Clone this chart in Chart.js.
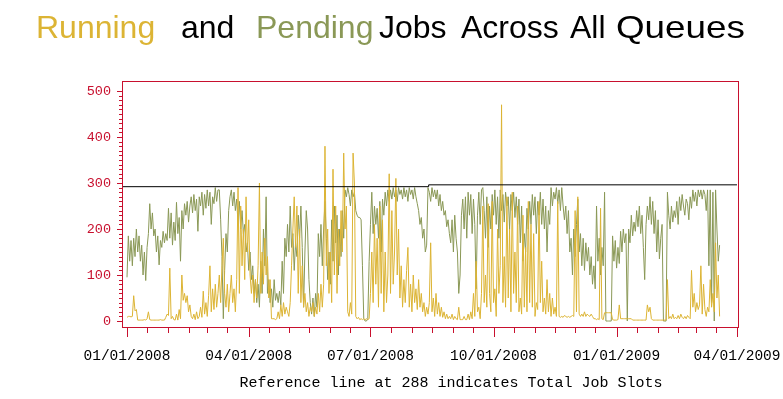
<!DOCTYPE html>
<html>
<head>
<meta charset="utf-8">
<script src="https://cdn.jsdelivr.net/npm/chart.js@4.4.1/dist/chart.umd.min.js"></script>
<style>
  body { margin: 0; background: #fff; overflow: hidden; }
  #wrap { position: relative; width: 783px; height: 399px; }
  #title span { position: absolute; top: 11px; font-family: "Liberation Sans", Arial, sans-serif; font-size: 32px; line-height: 32px; white-space: nowrap; }
  #caption { position: absolute; top: 376px; left: 151px; width: 600px; text-align: center; font-family: "Liberation Mono", monospace; font-size: 15px; line-height: 15px; color: #000; }
  canvas { position: absolute; left: 0; top: 0; }
</style>
</head>
<body>
<div id="wrap">
  <canvas id="jobs" width="783" height="399"></canvas>
  <div id="title">
    <span style="left:36px;color:#dcb434">Running</span>
    <span style="left:181px;color:#000">and</span>
    <span style="left:256px;color:#8a9856">Pending</span>
    <span style="left:379px;color:#000">Jobs</span>
    <span style="left:461px;color:#000">Across</span>
    <span style="left:570px;color:#000">All</span>
    <span style="left:616px;color:#000;transform:scaleX(1.15);transform-origin:0 0">Queues</span>
  </div>
  <div id="caption">Reference line at 288 indicates Total Job Slots</div>
</div>
<script>
// one value per day, starting 01/01/2008
var running = [
  8,10,10,9,10,55,22,25,2,2,
  2,2,2,3,2,5,20,3,2,2,
  2,2,2,2,2,3,2,2,2,8,
  15,12,115,5,10,3,2,15,2,25,
  5,100,45,60,40,55,20,35,10,5,
  15,3,20,5,10,30,8,65,15,40,
  10,55,120,20,70,25,80,30,60,100,
  40,120,180,60,30,80,20,60,100,40,
  70,20,90,290,60,250,120,200,90,270,
  150,220,100,60,100,40,90,50,120,300,
  60,150,80,180,100,140,50,90,5,5,
  5,3,5,20,5,35,10,40,15,30,
  20,10,40,120,200,270,160,250,60,200,
  40,120,30,60,20,40,10,30,20,40,
  10,30,15,60,20,80,30,80,380,120,
  200,60,150,40,330,100,250,60,200,120,
  240,150,365,200,250,20,10,40,15,365,
  300,10,5,8,3,5,3,5,3,5,
  3,5,60,150,40,210,80,180,30,250,
  60,220,20,150,40,100,320,60,240,80,
  150,310,100,200,50,120,30,90,40,110,
  160,30,80,20,100,40,70,25,90,30,
  60,20,40,10,30,15,40,170,20,50,
  10,60,15,40,10,30,8,20,5,15,
  5,10,5,15,3,10,5,3,30,3,
  3,3,10,3,3,15,3,20,5,60,
  10,130,20,30,5,60,250,40,100,30,
  255,60,20,260,40,70,10,200,60,120,
  470,40,140,30,270,50,200,20,280,60,
  150,40,250,20,50,15,230,30,160,20,
  260,40,210,30,190,10,40,25,260,40,
  130,20,50,15,90,20,60,10,50,15,
  30,10,260,10,8,10,8,12,10,8,
  10,8,10,12,10,240,20,270,15,10,
  15,10,20,10,15,12,10,15,10,5,
  5,3,5,3,245,5,3,18,18,18,
  18,18,18,3,2,2,2,3,35,5,
  5,5,5,5,5,5,5,5,2,2,
  2,2,2,2,2,2,2,2,2,35,
  20,30,5,2,2,2,2,2,2,2,
  2,2,2,2,90,5,10,5,15,5,
  8,5,12,5,15,8,5,10,5,12,
  8,5,110,30,60,20,40,25,35,120,
  15,80,25,10,30,20,90,30,60,20,
  170,50,100,10
];
var pending = [
  95,185,130,175,120,180,140,200,150,185,
  130,165,100,150,88,160,190,255,200,235,
  185,200,150,185,122,175,160,195,170,190,
  175,245,180,235,165,215,175,258,190,225,
  130,240,200,255,230,260,215,250,270,235,
  275,240,265,195,270,250,280,230,275,245,
  285,250,280,210,270,255,290,260,285,285,
  220,140,5,110,190,150,240,270,285,250,
  280,240,265,210,260,200,240,190,210,150,
  170,110,150,90,120,60,90,40,80,30,
  130,60,200,120,270,60,90,40,70,30,
  90,45,60,40,65,35,130,60,180,140,
  210,150,250,160,190,110,170,140,230,180,
  250,160,30,150,240,200,90,40,15,50,
  10,60,30,190,140,210,120,200,260,180,
  90,150,80,220,130,250,170,230,100,200,
  140,240,180,285,270,290,275,250,285,270,
  280,240,230,225,225,220,120,5,0,0,
  5,130,210,280,190,250,210,245,180,260,
  150,265,230,280,250,285,260,285,265,290,
  270,285,260,290,275,285,265,290,270,285,
  260,290,275,285,265,290,270,255,240,210,
  225,180,200,150,165,290,280,260,290,270,
  285,265,285,250,275,240,260,230,240,205,
  220,190,170,220,150,230,180,150,60,100,
  230,265,200,270,180,280,230,275,190,265,
  210,70,230,280,210,285,290,240,180,270,
  160,250,200,275,230,285,210,270,180,285,
  240,275,215,280,250,270,200,275,240,280,
  225,270,210,265,170,250,130,190,150,245,
  200,260,210,275,230,270,190,260,230,280,
  210,265,200,250,150,240,210,290,250,280,
  265,290,255,285,240,290,250,220,250,190,
  240,150,180,100,200,140,210,265,150,190,
  120,180,110,170,130,160,100,140,80,120,
  70,250,130,180,100,160,120,280,0,0,
  0,0,0,185,130,175,115,160,125,195,
  150,200,170,190,0,200,170,230,185,215,
  195,240,205,250,190,230,160,90,210,250,
  220,270,210,260,190,240,150,220,135,180,
  210,0,0,0,280,230,200,250,215,240,
  225,260,210,270,240,275,250,230,265,255,
  220,270,245,285,260,280,250,285,270,285,
  265,285,275,240,285,120,285,40,280,0,
  285,200,130,165
];
// reference line (day, jobs)
var refDays = [-3.74, 225.5, 225.5, 456];
var refJobs = [292, 292, 296, 296];
// axis ticks, days since 01/01/2008
var dateDays = [0, 91, 182, 274, 366, 456];
var dateLabels = ['01/01/2008', '04/01/2008', '07/01/2008', '10/01/2008', '01/01/2009', '04/01/2009'];
var halfMonthDays = [0,15,31,46,60,75,91,106,121,136,152,167,182,197,213,228,244,259,274,289,305,320,335,350,366,381,397,412,425,440,456];
var jobTicks = [0, 100, 200, 300, 400, 500];

var RED = '#c8102e';
var YELLOW = '#dcb434';
var GREEN = '#8a9856';

function toPoints(arr) {
  return arr.map(function (v, i) { return { x: i, y: v }; });
}

// red frame plus the tick marks
var framePlugin = {
  id: 'frame',
  afterDraw: function (chart) {
    var ctx = chart.ctx, a = chart.chartArea;
    var x = chart.scales.x, y = chart.scales.y;
    ctx.save();
    ctx.strokeStyle = RED;
    ctx.lineWidth = 1;
    ctx.strokeRect(Math.round(a.left) + 0.5, Math.round(a.top) + 0.5, Math.round(a.right - a.left), Math.round(a.bottom - a.top));
    ctx.beginPath();
    for (var v = 0; v <= 500; v += 10) {
      var py = Math.round(y.getPixelForValue(v)) + 0.5;
      var len = v % 100 === 0 ? 5 : 3;
      ctx.moveTo(Math.round(a.left) - len, py);
      ctx.lineTo(Math.round(a.left), py);
    }
    halfMonthDays.forEach(function (d) {
      var px = Math.round(x.getPixelForValue(d)) + 0.5;
      var len = dateDays.indexOf(d) >= 0 ? 10 : 6;
      ctx.moveTo(px, Math.round(a.bottom));
      ctx.lineTo(px, Math.round(a.bottom) + len);
    });
    ctx.stroke();
    ctx.restore();
  }
};

new Chart(document.getElementById('jobs'), {
  type: 'line',
  data: {
    datasets: [
      {
        label: 'Total Job Slots',
        data: refDays.map(function (d, i) { return { x: d, y: refJobs[i] }; }),
        borderColor: '#000',
        borderWidth: 1
      },
      {
        label: 'Running',
        data: toPoints(running),
        borderColor: YELLOW,
        borderWidth: 1
      },
      {
        label: 'Pending',
        data: toPoints(pending),
        borderColor: GREEN,
        borderWidth: 1
      }
    ]
  },
  options: {
    responsive: false,
    animation: false,
    devicePixelRatio: 1,
    elements: { point: { radius: 0 }, line: { tension: 0 } },
    layout: { padding: { top: 81, right: 45, left: 0, bottom: 0 } },
    plugins: { legend: { display: false }, tooltip: { enabled: false }, title: { display: false } },
    scales: {
      x: {
        type: 'linear',
        min: -3.74,
        max: 456.75,
        grid: { display: false, drawTicks: false },
        border: { display: false },
        afterFit: function (s) { s.height = 72; s.paddingLeft = 0; s.paddingRight = 0; },
        afterBuildTicks: function (s) { s.ticks = dateDays.map(function (d) { return { value: d }; }); },
        ticks: {
          autoSkip: false,
          maxRotation: 0,
          padding: 20,
          color: '#000',
          font: { family: 'Liberation Mono', size: 14.5 },
          callback: function (v) { return dateLabels[dateDays.indexOf(v)]; }
        }
      },
      y: {
        min: -13,
        max: 521.7,
        grid: { display: false, drawTicks: false },
        border: { display: false },
        afterFit: function (s) { s.width = 122; s.paddingTop = 0; s.paddingBottom = 0; },
        afterBuildTicks: function (s) { s.ticks = jobTicks.map(function (v) { return { value: v }; }); },
        ticks: {
          padding: 11,
          color: RED,
          font: { family: 'Liberation Mono', size: 13.5 }
        }
      }
    }
  },
  plugins: [framePlugin]
});
</script>
</body>
</html>
